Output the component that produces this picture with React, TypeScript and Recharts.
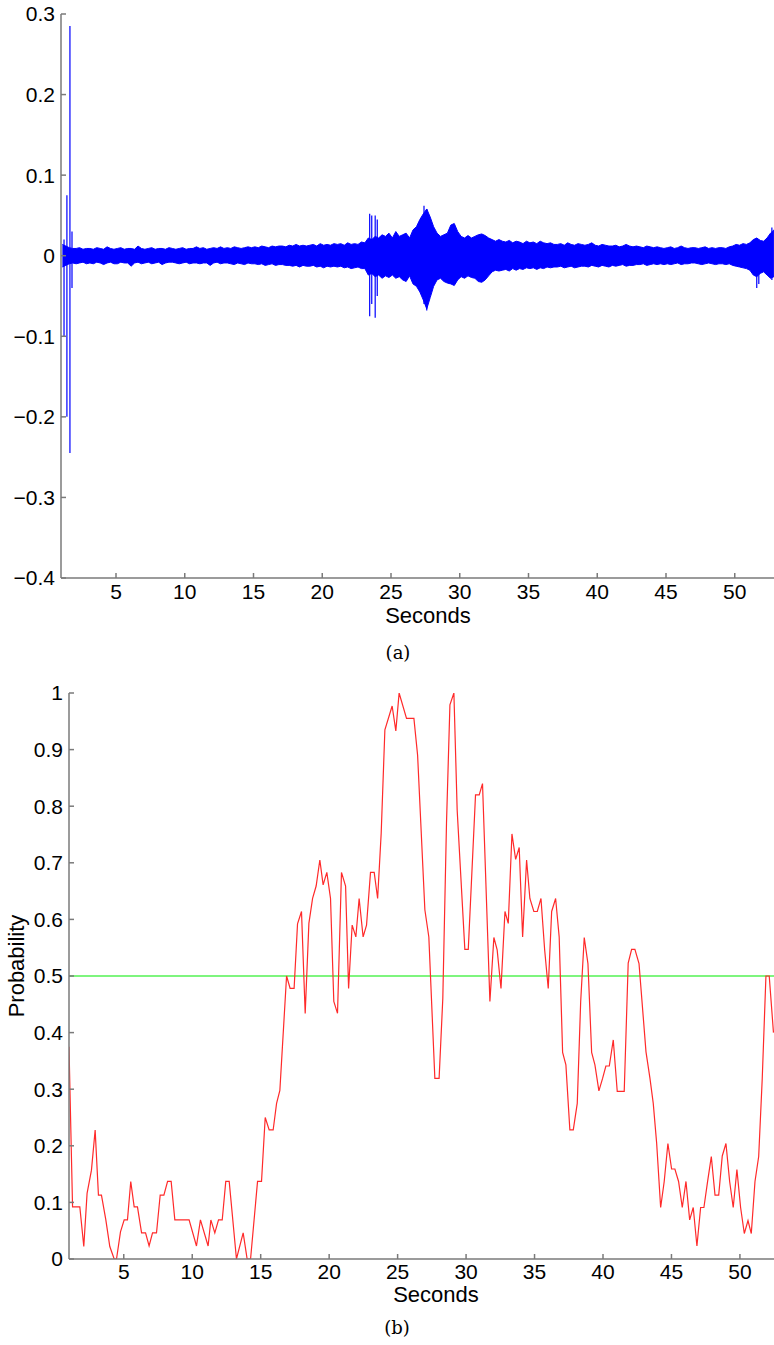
import React from "react";
import {
  ComposedChart,
  LineChart,
  Line,
  Area,
  XAxis,
  YAxis,
  ReferenceLine,
} from "recharts";

const FONT = "'Liberation Sans', Arial, Helvetica, sans-serif";
const SERIF = "'DejaVu Serif', 'Liberation Serif', serif";
const AXIS = "#7a7a7a";

// (a) signal envelope, one value every 0.25 s from 1.1 s, in thousandths
const envStart = 1.1;
const envStep = 0.25;
const envUpper = [
  14, 12, 10, 9, 9, 10, 8, 9,
  9, 8, 10, 9, 8, 11, 9, 8,
  9, 10, 8, 9, 9, 8, 12, 9,
  8, 9, 10, 8, 9, 9, 8, 10,
  9, 8, 9, 10, 8, 9, 9, 11,
  9, 10, 8, 9, 10, 9, 11, 9,
  10, 9, 11, 10, 9, 10, 11, 10,
  11, 10, 12, 11, 10, 12, 11, 12,
  12, 11, 13, 12, 14, 12, 13, 12,
  13, 14, 12, 15, 13, 14, 13, 15,
  14, 15, 13, 16, 14, 15, 14, 17,
  16, 22, 20, 24, 22, 26, 24, 28,
  22, 30, 24, 26, 28, 22, 32, 36,
  45, 52, 58, 48, 36, 28, 24, 26,
  28, 38, 40, 30, 24, 22, 25, 22,
  24, 26, 27, 25, 22, 20, 18, 20,
  18, 17, 19, 16, 18, 17, 15, 18,
  16, 17, 15, 18, 16, 15, 16, 14,
  14, 15, 13, 16, 14, 13, 15, 14,
  13, 14, 16, 13, 12, 14, 13, 12,
  12, 13, 11, 12, 14, 12, 11, 12,
  11, 10, 12, 11, 10, 11, 10, 9,
  10, 11, 9, 10, 12, 10, 9, 10,
  10, 9, 10, 11, 9, 10, 9, 10,
  10, 9, 11, 12, 14, 13, 15, 14,
  16, 20, 22, 19, 18, 22, 28, 32,
];
const envLower = [
  -14, -12, -10, -9, -10, -9, -8, -10,
  -9, -10, -8, -9, -11, -9, -8, -10,
  -10, -8, -9, -9, -13, -9, -8, -10,
  -9, -8, -10, -9, -8, -11, -9, -8,
  -8, -9, -10, -9, -8, -10, -9, -9,
  -10, -9, -9, -12, -9, -8, -10, -9,
  -9, -10, -11, -9, -10, -11, -9, -10,
  -10, -11, -10, -12, -11, -10, -12, -11,
  -11, -12, -12, -13, -12, -14, -12, -13,
  -13, -12, -14, -13, -15, -13, -14, -13,
  -14, -13, -15, -14, -16, -15, -14, -16,
  -16, -24, -22, -26, -24, -28, -25, -27,
  -24, -28, -26, -30, -32, -25, -35, -38,
  -45, -55, -66, -52, -38, -30, -28, -32,
  -34, -35, -37, -30, -26, -28, -25, -27,
  -28, -32, -33, -30, -25, -20, -18, -19,
  -18, -17, -19, -16, -18, -16, -17, -15,
  -16, -15, -17, -15, -16, -14, -15, -14,
  -14, -13, -15, -14, -13, -15, -14, -13,
  -13, -14, -12, -13, -14, -12, -13, -14,
  -12, -13, -12, -11, -13, -12, -12, -11,
  -11, -10, -12, -11, -10, -11, -10, -11,
  -10, -11, -10, -9, -11, -10, -10, -9,
  -9, -10, -11, -10, -9, -10, -11, -10,
  -10, -11, -10, -12, -13, -14, -15, -16,
  -18, -24, -26, -22, -20, -24, -28, -26,
];

// (a) isolated spikes
const spikeTimes = [1.22, 1.43, 1.65, 1.8, 23.45, 23.6, 23.85, 24.0, 27.4, 27.6, 51.6, 51.75, 52.7];
const spikeTops = [0.02, 0.075, 0.285, 0.03, 0.052, 0.05, 0.05, 0.045, 0.062, 0.058, 0.022, 0.02, 0.035];
const spikeBottoms = [-0.1, -0.2, -0.245, -0.04, -0.075, -0.06, -0.077, -0.05, -0.06, -0.068, -0.04, -0.035, -0.03];

// (b) probability
const probTimes = [
  1.0, 1.26, 1.79, 2.08, 2.32, 2.64, 2.91, 3.15, 3.37, 3.69, 3.98, 4.3, 4.47, 4.76,
  5.03, 5.27, 5.51, 5.76, 6.0, 6.3, 6.59, 6.85, 7.1, 7.39, 7.66, 7.93, 8.2, 8.46,
  8.73, 9.77, 10.31, 10.6, 11.16, 11.36, 11.65, 11.92, 12.19, 12.45, 12.7, 13.23,
  13.72, 14.01, 14.26, 14.77, 15.06, 15.33, 15.62, 15.91, 16.16, 16.4, 16.89, 17.15,
  17.44, 17.69, 17.98, 18.25, 18.52, 18.79, 19.05, 19.32, 19.56, 19.83, 20.1, 20.34,
  20.61, 20.9, 21.2, 21.42, 21.68, 21.95, 22.19, 22.48, 22.73, 23.02, 23.29, 23.54,
  23.8, 24.07, 24.6, 24.87, 25.11, 25.65, 26.19, 26.46, 26.99, 27.28, 27.72, 28.03,
  28.3, 28.57, 28.82, 29.11, 29.35, 29.91, 30.16, 30.69, 30.96, 31.2, 31.74, 32.03,
  32.27, 32.55, 32.84, 33.08, 33.35, 33.62, 33.88, 34.13, 34.42, 34.66, 34.95, 35.2,
  35.47, 35.74, 36.0, 36.25, 36.54, 36.8, 37.05, 37.29, 37.58, 37.83, 38.12, 38.37,
  38.63, 38.9, 39.17, 39.41, 39.7, 39.97, 40.21, 40.46, 40.75, 41.04, 41.55, 41.84,
  42.09, 42.33, 42.63, 43.14, 43.43, 43.67, 43.92, 44.21, 44.47, 44.74, 45.01, 45.25,
  45.52, 45.79, 46.06, 46.33, 46.59, 46.86, 47.13, 47.37, 47.64, 47.91, 48.18, 48.45,
  48.71, 48.98, 49.25, 49.51, 49.78, 50.05, 50.32, 50.59, 50.83, 51.1, 51.37, 51.63,
  51.9, 52.14, 52.45,
];
const probValues = [
  0.375, 0.092, 0.092, 0.022, 0.116, 0.157, 0.228, 0.113, 0.113, 0.069, 0.022, 0, 0, 0.048,
  0.069, 0.069, 0.137, 0.092, 0.092, 0.046, 0.046, 0.023, 0.046, 0.046, 0.113, 0.113, 0.137, 0.137,
  0.069, 0.069, 0.023, 0.069, 0.023, 0.069, 0.046, 0.069, 0.069, 0.137, 0.137, 0,
  0.046, 0, 0, 0.137, 0.137, 0.25, 0.228, 0.228, 0.275, 0.298, 0.5, 0.478,
  0.478, 0.592, 0.614, 0.434, 0.593, 0.637, 0.659, 0.705, 0.661, 0.683, 0.637, 0.455,
  0.434, 0.683, 0.659, 0.478, 0.59, 0.569, 0.637, 0.569, 0.59, 0.683, 0.683, 0.637,
  0.752, 0.935, 0.977, 0.933, 1.0, 0.955, 0.955, 0.89, 0.617, 0.569, 0.319, 0.319,
  0.46, 0.77, 0.979, 1.0, 0.793, 0.547, 0.547, 0.82, 0.82, 0.84, 0.455, 0.568,
  0.546, 0.478, 0.614, 0.593, 0.751, 0.706, 0.727, 0.569, 0.705, 0.637, 0.614, 0.614,
  0.637, 0.546, 0.478, 0.614, 0.637, 0.569, 0.365, 0.343, 0.228, 0.228, 0.275, 0.455,
  0.568, 0.522, 0.365, 0.343, 0.297, 0.319, 0.341, 0.341, 0.387, 0.296, 0.296, 0.523,
  0.547, 0.547, 0.522, 0.366, 0.319, 0.275, 0.204, 0.091, 0.137, 0.204, 0.159, 0.159,
  0.137, 0.091, 0.137, 0.069, 0.091, 0.023, 0.091, 0.091, 0.137, 0.181, 0.113, 0.113,
  0.182, 0.204, 0.137, 0.091, 0.158, 0.091, 0.045, 0.068, 0.045, 0.137, 0.181, 0.319,
  0.5, 0.5, 0.4,
];
const threshold = 0.5;

const secondTicks = [5, 10, 15, 20, 25, 30, 35, 40, 45, 50];
const ampTicks = [-0.4, -0.3, -0.2, -0.1, 0, 0.1, 0.2, 0.3];
const probTicks = [0, 0.1, 0.2, 0.3, 0.4, 0.5, 0.6, 0.7, 0.8, 0.9, 1];

const bandRows = envUpper.map((hi, i) => ({
  t: envStart + i * envStep,
  band: [envLower[i] / 1000, hi / 1000],
}));
const spikeRows = spikeTimes.flatMap((t, i) => [
  { t, v: 0 },
  { t, v: spikeTops[i] },
  { t, v: spikeBottoms[i] },
  { t, v: 0 },
]);
const probRows = probTimes.map((t, i) => ({ t, p: probValues[i] }));

const fmt = (v: number) => {
  if (v === 0) return "0";
  if (v === 1) return "1";
  return (v < 0 ? "\u2212" : "") + Math.abs(v).toFixed(1);
};
const blank = () => "";
const tickStyle = { fill: "#000", fontSize: 21, fontFamily: FONT };

export default function App() {
  return (
    <div
      style={{
        position: "absolute",
        left: 0,
        top: 0,
        width: 774,
        height: 1345,
        overflow: "hidden",
        background: "#fff",
      }}
    >
      <div style={{ position: "absolute", left: 0, top: 0 }}>
        <ComposedChart width={780} height={640} margin={{ top: 14, right: 4, bottom: 0, left: 0 }}>
          <XAxis
            xAxisId="b"
            type="number"
            dataKey="t"
            domain={[1, 53]}
            ticks={secondTicks}
            allowDataOverflow
            stroke={AXIS}
            strokeWidth={1.5}
            tickSize={-5}
            tickMargin={11}
            tick={tickStyle}
            height={62}
          />
          <XAxis
            xAxisId="top"
            orientation="top"
            type="number"
            dataKey="t"
            domain={[1, 53]}
            ticks={secondTicks}
            allowDataOverflow
            stroke={AXIS}
            strokeWidth={1.5}
            tickSize={-5}
            tickFormatter={blank}
            height={0}
          />
          <YAxis
            yAxisId="l"
            type="number"
            domain={[-0.4, 0.3]}
            ticks={ampTicks}
            allowDataOverflow
            stroke={AXIS}
            strokeWidth={1.5}
            tickSize={-5}
            tickMargin={11}
            tick={tickStyle}
            tickFormatter={fmt}
            width={61}
          />
          <YAxis
            yAxisId="r"
            orientation="right"
            type="number"
            domain={[-0.4, 0.3]}
            ticks={ampTicks}
            allowDataOverflow
            stroke={AXIS}
            strokeWidth={1.5}
            tickSize={-5}
            tickFormatter={blank}
            width={0}
          />
          <Area
            xAxisId="b"
            yAxisId="l"
            data={bandRows}
            dataKey="band"
            type="linear"
            stroke="#0000ff"
            strokeWidth={1}
            fill="#0000ff"
            fillOpacity={1}
            isAnimationActive={false}
          />
          <Line
            xAxisId="b"
            yAxisId="l"
            data={spikeRows}
            dataKey="v"
            type="linear"
            stroke="#0000ff"
            strokeWidth={1.2}
            dot={false}
            isAnimationActive={false}
          />
        </ComposedChart>
      </div>

      <div style={{ position: "absolute", left: 0, top: 680 }}>
        <LineChart width={786} height={665} margin={{ top: 13, right: 5, bottom: 0, left: 0 }}>
          <XAxis
            xAxisId="b"
            type="number"
            dataKey="t"
            domain={[1, 53]}
            ticks={secondTicks}
            allowDataOverflow
            stroke={AXIS}
            strokeWidth={1.5}
            tickSize={-5}
            tickMargin={10}
            tick={tickStyle}
            height={86}
          />
          <XAxis
            xAxisId="top"
            orientation="top"
            type="number"
            dataKey="t"
            domain={[1, 53]}
            ticks={secondTicks}
            allowDataOverflow
            stroke={AXIS}
            strokeWidth={1.5}
            tickSize={-5}
            tickFormatter={blank}
            height={0}
          />
          <YAxis
            yAxisId="l"
            type="number"
            domain={[0, 1]}
            ticks={probTicks}
            allowDataOverflow
            stroke={AXIS}
            strokeWidth={1.5}
            tickSize={-5}
            tickMargin={11}
            tick={tickStyle}
            tickFormatter={fmt}
            width={69}
          />
          <YAxis
            yAxisId="r"
            orientation="right"
            type="number"
            domain={[0, 1]}
            ticks={probTicks}
            allowDataOverflow
            stroke={AXIS}
            strokeWidth={1.5}
            tickSize={-5}
            tickFormatter={blank}
            width={0}
          />
          <ReferenceLine xAxisId="b" yAxisId="l" y={threshold} stroke="#7ef57e" strokeWidth={2} />
          <Line
            xAxisId="b"
            yAxisId="l"
            data={probRows}
            dataKey="p"
            type="linear"
            stroke="#ff2a2a"
            strokeWidth={1.2}
            dot={false}
            isAnimationActive={false}
          />
        </LineChart>
      </div>

      <svg
        width={774}
        height={1345}
        style={{ position: "absolute", left: 0, top: 0, pointerEvents: "none" }}
      >
        <text x={428} y={623} textAnchor="middle" fontSize={22} fontFamily={FONT} fill="#000">
          Seconds
        </text>
        <text x={398} y={659} textAnchor="middle" fontSize={18} fontFamily={SERIF} fill="#000">
          (a)
        </text>
        <text x={436} y={1302} textAnchor="middle" fontSize={22} fontFamily={FONT} fill="#000">
          Seconds
        </text>
        <text x={397} y={1334} textAnchor="middle" fontSize={18} fontFamily={SERIF} fill="#000">
          (b)
        </text>
        <text
          x={0}
          y={0}
          transform="translate(24 966) rotate(-90)"
          textAnchor="middle"
          fontSize={22}
          fontFamily={FONT}
          fill="#000"
        >
          Probability
        </text>
      </svg>
    </div>
  );
}
